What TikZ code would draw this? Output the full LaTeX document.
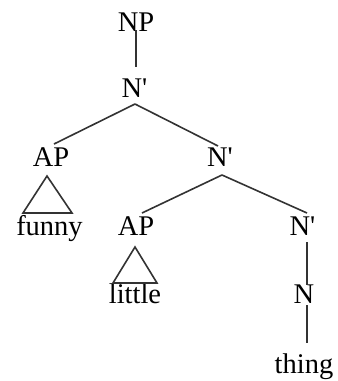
\documentclass[tikz,border=0pt]{standalone}
\usepackage{fontspec}
\setmainfont{Liberation Serif}
\begin{document}
\begin{tikzpicture}[x=1pt,y=-1pt,
  lbl/.style={anchor=base,inner sep=0pt,
    font=\fontsize{28.5}{30}\selectfont,text=black},
  branch/.style={draw=black!80,line width=1.6pt},
  roof/.style={draw=black!80,line width=1.6pt,line join=miter}]
\useasboundingbox (0,0) rectangle (338,381);

% category labels and words
\node[lbl] (np)     at (136,31)    {NP};
\node[lbl] (nb1)    at (134.5,97)  {N\textquotesingle};
\node[lbl] (ap1)    at (51,166)    {AP};
\node[lbl] (nb2)    at (220,166)   {N\textquotesingle};
\node[lbl] (funny)  at (49.5,235)  {funny};
\node[lbl] (ap2)    at (136,235)   {AP};
\node[lbl] (nb3)    at (302.5,235) {N\textquotesingle};
\node[lbl] (little) at (135,303)   {little};
\node[lbl] (n)      at (304,303)   {N};
\node[lbl] (thing)  at (304,373)   {thing};

% branches
\draw[branch] ([yshift=1pt]np.base) -- ([xshift=1.5pt,yshift=30pt]nb1.base);
\draw[branch] ([xshift=0.5pt,yshift=-7pt]nb1.base) -- ([xshift=3pt,yshift=22pt]ap1.base);
\draw[branch] ([xshift=0.5pt,yshift=-7pt]nb1.base) -- ([xshift=-2pt,yshift=20pt]nb2.base);
\draw[branch] ([xshift=2pt,yshift=-9pt]nb2.base) -- ([xshift=6pt,yshift=22pt]ap2.base);
\draw[branch] ([xshift=2pt,yshift=-9pt]nb2.base) -- ([xshift=4.5pt,yshift=22pt]nb3.base);
\draw[branch] ([xshift=4.5pt,yshift=-7pt]nb3.base) -- ([xshift=3pt,yshift=18pt]n.base);
\draw[branch] ([xshift=3pt,yshift=-2pt]n.base) -- ([xshift=3pt,yshift=30pt]thing.base);

% roofs over the adjective phrases
\draw[roof] ([xshift=-4pt,yshift=-10pt]ap1.base) -- ++(-24,37) -- ++(49,0) -- cycle;
\draw[roof] ([xshift=-1pt,yshift=-12pt]ap2.base) -- ++(-22,36) -- ++(44,0) -- cycle;
\end{tikzpicture}
\end{document}
